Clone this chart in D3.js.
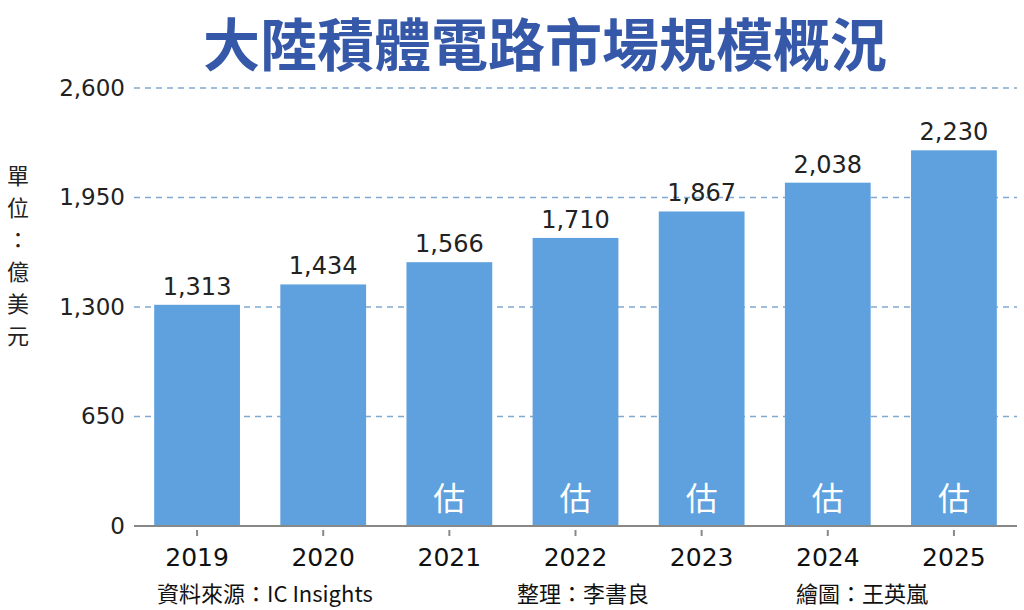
<!DOCTYPE html>
<html>
<head>
<meta charset="utf-8">
<script src="https://cdn.jsdelivr.net/npm/d3@7"></script>
<style>
  body { margin: 0; background: #fff; }
  svg { display: block; }
</style>
</head>
<body>
<div id="chart"></div>
<script>
// Data
var years = ["2019", "2020", "2021", "2022", "2023", "2024", "2025"];
var values = [1313, 1434, 1566, 1710, 1867, 2038, 2230];
var estimated = [false, false, true, true, true, true, true];
var yTicks = [0, 650, 1300, 1950, 2600];

var svgWidth = 1024;
var svgHeight = 610;

var margin = { top: 88, right: 7, bottom: 84, left: 134 };
var width = svgWidth - margin.left - margin.right;
var height = svgHeight - margin.top - margin.bottom;

var svg = d3.select("#chart")
    .append("svg")
    .attr("width", svgWidth)
    .attr("height", svgHeight);

var chartGroup = svg.append("g")
    .attr("transform", `translate(${margin.left}, ${margin.top})`);

var numFont = "'DejaVu Sans', 'Liberation Sans', sans-serif";
var cjkFont = "'Noto Sans CJK TC', sans-serif";

// Scales
var xScale = d3.scaleBand()
    .domain(years)
    .range([0, width])
    .paddingInner(0.32)
    .paddingOuter(0.16);

var yScale = d3.scaleLinear()
    .domain([0, 2600])
    .range([height, 0]);

// Title
svg.append("text")
    .attr("x", 545)
    .attr("y", 66)
    .attr("text-anchor", "middle")
    .attr("font-family", cjkFont)
    .attr("font-weight", "600")
    .attr("font-size", "57px")
    .attr("fill", "#3558a8")
    .text("大陸積體電路市場規模概況");

// Gridlines
chartGroup.append("g")
    .selectAll("line")
    .data(yTicks.filter(d => d > 0))
    .enter()
    .append("line")
    .attr("x1", 0)
    .attr("x2", width)
    .attr("y1", d => yScale(d))
    .attr("y2", d => yScale(d))
    .attr("stroke", "#7fa9cf")
    .attr("stroke-width", 1.5)
    .attr("stroke-dasharray", "6,5");

// Y axis labels
var leftAxis = d3.axisLeft(yScale)
    .tickValues(yTicks)
    .tickSize(0)
    .tickPadding(9)
    .tickFormat(d3.format(","));

var yAxis = chartGroup.append("g").call(leftAxis);
yAxis.select(".domain").remove();
yAxis.selectAll("text")
    .attr("font-family", numFont)
    .attr("font-size", "23px")
    .attr("fill", "#222");

// Unit label (vertical)
var unitChars = ["單", "位", "：", "億", "美", "元"];
svg.append("g").selectAll("text")
    .data(unitChars)
    .enter()
    .append("text")
    .attr("x", 18)
    .attr("y", (d, i) => 184 + i * 32)
    .attr("text-anchor", "middle")
    .attr("font-family", cjkFont)
    .attr("font-size", "22px")
    .attr("fill", "#222")
    .text(d => d);

// Bars
chartGroup.append("g").selectAll("rect")
    .data(values)
    .enter()
    .append("rect")
    .attr("x", (d, i) => xScale(years[i]))
    .attr("y", d => yScale(d))
    .attr("width", xScale.bandwidth())
    .attr("height", d => height - yScale(d))
    .attr("fill", "#5ea1de");

// Value labels
chartGroup.append("g").selectAll("text")
    .data(values)
    .enter()
    .append("text")
    .attr("x", (d, i) => xScale(years[i]) + xScale.bandwidth() / 2)
    .attr("y", d => yScale(d) - 10)
    .attr("text-anchor", "middle")
    .attr("font-family", numFont)
    .attr("font-size", "24px")
    .attr("fill", "#222")
    .text(d => d3.format(",")(d));

// Estimate marks
chartGroup.append("g").selectAll("text")
    .data(years.filter((d, i) => estimated[i]))
    .enter()
    .append("text")
    .attr("x", d => xScale(d) + xScale.bandwidth() / 2)
    .attr("y", height - 16)
    .attr("text-anchor", "middle")
    .attr("font-family", cjkFont)
    .attr("font-size", "32px")
    .attr("fill", "#fff")
    .text("估");

// X axis
var bottomAxis = d3.axisBottom(xScale)
    .tickSize(10)
    .tickPadding(12);

var xAxis = chartGroup.append("g")
    .attr("transform", `translate(0, ${height})`)
    .call(bottomAxis);
xAxis.select(".domain")
    .attr("d", `M0,0H${width}`)
    .attr("stroke", "#888")
    .attr("stroke-width", 2);
xAxis.selectAll(".tick line")
    .attr("stroke", "#888")
    .attr("stroke-width", 2)
    .attr("y1", 4);
xAxis.selectAll("text")
    .attr("font-family", numFont)
    .attr("font-size", "25px")
    .attr("fill", "#111");

// Footer
var footer = [
    { x: 157, text: "資料來源：IC Insights" },
    { x: 517, text: "整理：李書良" },
    { x: 796, text: "繪圖：王英嵐" }
];
svg.append("g").selectAll("text")
    .data(footer)
    .enter()
    .append("text")
    .attr("x", d => d.x)
    .attr("y", 602)
    .attr("font-family", cjkFont)
    .attr("font-size", "22px")
    .attr("fill", "#111")
    .text(d => d.text);
</script>
</body>
</html>
